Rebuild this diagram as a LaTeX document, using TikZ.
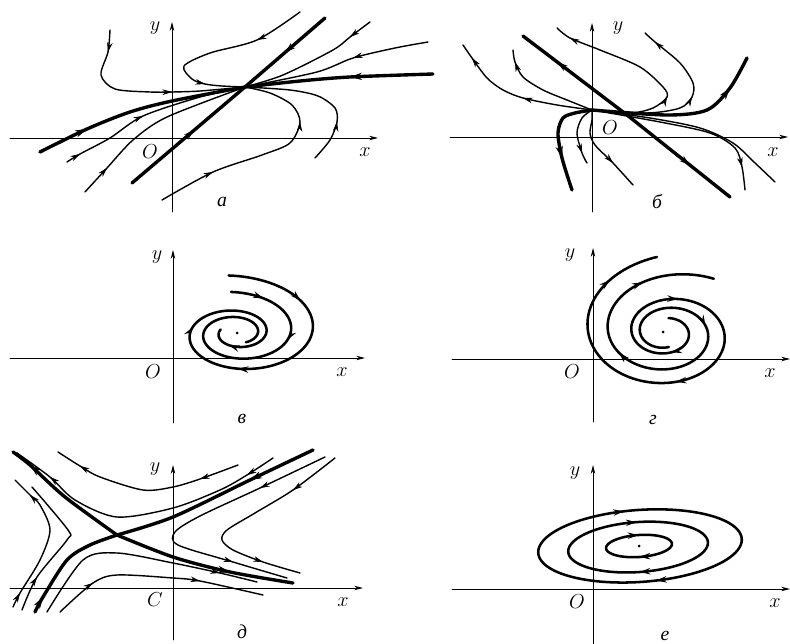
\documentclass[tikz,border=0pt]{standalone}
\usepackage{fontspec}
\newfontfamily\cyrfont{Liberation Serif}
\usetikzlibrary{arrows.meta,decorations.markings,calc}
\tikzset{
  flow/.style={postaction={decorate,decoration={markings,
      mark=at position #1 with {\arrow{Stealth[length=2.6mm,width=1.6mm]}}}}},
  axisline/.style={line width=0.6pt,-{Stealth[length=2.2mm,width=1.1mm]}},
  traj/.style={line width=1pt},
  sep/.style={line width=2.4pt},
  spir/.style={line width=1.8pt},
  tipline/.style={line width=0.4pt,-{Stealth[length=2.4mm,width=1.4mm]}},
  bigtip/.style={line width=0.4pt,-{Stealth[length=3mm,width=1.8mm]}},
  lab/.style={font=\fontsize{14}{16}\selectfont},
  panelname/.style={font=\fontsize{14}{16}\selectfont\cyrfont\itshape},
}
% arrow head at #3, pointing from #2 towards #4
\newcommand{\flowtip}[4][tipline]{\draw[#1] ($(#3)+0.01*(#2)-0.01*(#4)$) -- (#3);}
\begin{document}
\begin{tikzpicture}[x=0.025cm, y=-0.025cm, line join=round, line cap=round]
\useasboundingbox (0,0) rectangle (790,644);
% axes of the six panels
\foreach \xa/\xb/\xy/\yx/\ya/\yb in {10/378/138/172/212/22, 450/788/137/592/212/23,
    10/365/358/173/423/250, 452/790/359/593/422/248,
    10/363/588/173/640/465, 452/790/589/593/644/465}{
  \draw[axisline] (\xa,\xy) -- (\xb,\xy);
  \draw[axisline] (\yx,\ya) -- (\yx,\yb);
}
% axis labels
\foreach \n/\p/\t in {ya/{155,28}/y, oa/{150,152}/O, xa/{365,152}/x,
    yb/{618,28}/y, ob/{610,128}/O, xb/{773,152}/x,
    yc/{157,257}/y, oc/{153,372}/O, xc/{342,372}/x,
    yd/{570,255}/y, od/{572,372}/O, xd/{770,373}/x,
    ye/{155,469}/y, oe/{155,600}/C, xe/{343,602}/x,
    yf/{575,473}/y, of/{577,602}/O, xf/{775,603}/x}
  \node[lab] (\n) at (\p) {$\t$};
% panel names
\foreach \n/\p/\t in {pa/{222,202}/а, pb/{657,202}/б, pc/{242,419}/в,
    pd/{653,420}/г, pe/{242,632}/д, pf/{665,636}/е}
  \node[panelname] (\n) at (\p) {\t};

% a: stable node
\coordinate (na) at (245,87);
\draw[sep,flow=0.55] (132,183) -- (na);
\draw[sep,flow=0.5] (325,18) -- (na);
\draw[sep] plot[smooth] coordinates {(40,152) (87,129) (130,112) (172,101) (na)};
\draw[sep] plot[smooth] coordinates {(433,74) (350,77) (300,81) (na)};
\draw[traj] plot[smooth] coordinates {(67,162) (80,154) (110,138) (143,116) (200,97) (na)};
\draw[traj] plot[smooth] coordinates {(85,192) (107,168) (133,140) (167,117) (na)};
\draw[traj] plot[smooth] coordinates {(370,22) (350,37) (333,50) (283,75) (na)};
\draw[traj] plot[smooth] coordinates {(428,42) (395,48) (353,58) (317,72) (na)};
\draw[traj] plot[smooth] coordinates {(300,12) (257,40) (210,53) (184,66) (192,79) (205,84) (222,86) (na)};
\draw[traj] plot[smooth] coordinates {(110,30) (108,52) (101,75) (115,89) (150,92) (172,92) (200,91) (na)};
\draw[traj] plot[smooth] coordinates {(162,200) (213,172) (262,155) (290,143) (300,122) (292,105) (270,93) (na)};
\draw[traj] plot[smooth] coordinates {(315,158) (330,140) (337,122) (335,108) (318,96) (290,90) (na)};
\flowtip[bigtip]{40,152}{87,129}{130,112}
\flowtip[bigtip]{433,74}{350,77}{300,81}
\flowtip{67,162}{80,154}{110,138}
\flowtip{110,138}{143,116}{200,97}
\flowtip{85,192}{107,168}{133,140}
\flowtip{370,22}{350,37}{333,50}
\flowtip{395,48}{353,58}{317,72}
\flowtip{300,12}{257,40}{210,53}
\flowtip{192,79}{205,84}{222,86}
\flowtip{110,30}{108,52}{101,75}
\flowtip{150,92}{172,92}{200,91}
\flowtip{162,200}{213,172}{262,155}
\flowtip{290,143}{300,122}{292,105}
\flowtip{330,140}{337,122}{335,108}

% b: unstable node
\coordinate (nb) at (592,110);
\coordinate (lb) at (627,115);
\draw[sep,flow=0.67] (lb) -- (523,36);
\draw[sep,flow=0.61] (lb) -- (730,197);
\draw[traj] plot[smooth] coordinates {(nb) (557,105) (523,98) (503,90) (487,78) (472,58) (463,45)};
\draw[traj] plot[smooth] coordinates {(nb) (567,100) (543,90) (523,77) (515,62) (513,50)};
\draw[traj] plot[smooth] coordinates {(nb) (630,113) (653,108) (667,97) (663,87) (640,67) (600,50) (570,38) (557,28)};
\draw[traj] plot[smooth] coordinates {(nb) (647,113) (680,108) (692,97) (693,83) (680,63) (655,42) (645,33)};
\draw[sep] plot[smooth] coordinates {(nb) (667,115) (707,110) (730,88) (747,58)};
\draw[traj] plot[smooth] coordinates {(nb) (650,118) (700,128) (733,143) (755,163) (775,182)};
\draw[traj] plot[smooth] coordinates {(nb) (660,122) (710,133) (735,148) (742,167) (745,190)};
\draw[sep] plot[smooth] coordinates {(nb) (575,113) (563,118) (558,133) (562,158) (572,190)};
\draw[traj] plot[smooth] coordinates {(nb) (582,118) (577,133) (582,153) (587,163)};
\draw[traj] plot[smooth] coordinates {(nb) (592,120) (590,133) (595,145) (613,163) (633,185)};
\flowtip{557,105}{523,98}{503,90}
\flowtip{487,78}{472,58}{463,45}
\flowtip{523,77}{515,62}{513,50}
\flowtip{653,108}{667,97}{663,87}
\flowtip{600,50}{570,38}{557,28}
\flowtip{680,108}{692,97}{693,83}
\flowtip{680,63}{655,42}{645,33}
\flowtip[bigtip]{707,110}{730,88}{747,58}
\flowtip{735,148}{742,167}{745,190}
\flowtip[bigtip]{558,133}{562,158}{572,190}
\flowtip{577,133}{582,153}{587,163}
\flowtip{595,145}{613,163}{633,185}

% c: stable focus
\begin{scope}[shift={(237,333)},yscale=-1]
  \draw[spir,flow=0.18,flow=0.47,flow=0.64,flow=0.95] plot[domain=95:-560,samples=300,variable=\t]
    ({exp(-0.15*rad(90-\t))*95*cos(\t)},{exp(-0.15*rad(90-\t))*57*sin(\t)});
  \draw[spir,flow=0.12,flow=0.32] plot[domain=95:-420,samples=260,variable=\t]
    ({exp(-0.15*(rad(90-\t)+2.25))*95*cos(\t)},{exp(-0.15*(rad(90-\t)+2.25))*57*sin(\t)});
  \fill (0,0) circle (1.5);
\end{scope}

% d: unstable focus
\begin{scope}[shift={(663,332)},yscale=-1]
  \draw[spir,flow=0.105,flow=0.32,flow=0.58,flow=0.9] plot[domain=800:100,samples=300,variable=\t]
    ({exp(-0.138*rad(\t-90))*(105*cos(\t)+12)},{exp(-0.138*rad(\t-90))*78*sin(\t)});
  \draw[spir,flow=0.3,flow=0.6,flow=0.82] plot[domain=640:60,samples=260,variable=\t]
    ({exp(-0.138*(rad(\t-90)+2.25))*(105*cos(\t)+12)},{exp(-0.138*(rad(\t-90)+2.25))*78*sin(\t)});
  \fill (0,0) circle (1.5);
\end{scope}

% e: saddle
\coordinate (sd) at (117,535);
\draw[sep] plot[smooth] coordinates {(sd) (65,497) (30,465) (13,452)};
\draw[sep] plot[smooth] coordinates {(sd) (173,557) (230,572) (293,583)};
\draw[sep] plot[smooth] coordinates {(35,612) (43,597) (67,560) (90,545) (sd)};
\draw[sep] plot[smooth] coordinates {(313,450) (250,480) (173,517) (sd)};
\draw[traj] plot[smooth] coordinates {(238,465) (200,479) (173,487) (143,490) (100,477) (80,466) (58,452)};
\draw[traj] plot[smooth] coordinates {(273,458) (247,475) (220,490) (173,508) (117,517) (75,500) (50,477) (17,453)};
\draw[traj] plot[smooth] coordinates {(335,458) (293,490) (255,513) (227,530) (222,540) (233,550) (263,562) (300,573)};
\draw[traj] plot[smooth] coordinates {(325,457) (260,488) (200,516) (175,532) (178,545) (233,562) (287,578)};
\draw[traj] plot[smooth] coordinates {(13,607) (20,593) (40,560) (50,530) (40,505) (30,495) (15,480)};
\draw[traj] plot[smooth] coordinates {(22,610) (37,577) (67,540) (68,530) (32,487)};
\draw[traj] plot[smooth] coordinates {(47,612) (83,560) (117,553) (173,563) (220,573) (257,582)};
\draw[traj] plot[smooth] coordinates {(60,612) (93,583) (117,575) (173,578) (200,581) (263,595)};
\flowtip[bigtip]{65,497}{30,465}{13,452}
\flowtip[bigtip]{173,557}{230,572}{293,583}
\flowtip[bigtip]{35,612}{43,597}{67,560}
\flowtip[bigtip]{313,450}{250,480}{173,517}
\flowtip{238,465}{200,479}{173,487}
\flowtip{100,477}{80,466}{58,452}
\flowtip{273,458}{247,475}{220,490}
\flowtip{75,500}{50,477}{17,453}
\flowtip{335,458}{293,490}{255,513}
\flowtip{233,550}{263,562}{300,573}
\flowtip{325,457}{260,488}{200,516}
\flowtip{178,545}{233,562}{287,578}
\flowtip{13,607}{20,593}{40,560}
\flowtip{40,505}{30,495}{15,480}
\flowtip{22,610}{37,577}{67,540}
\flowtip{173,563}{220,573}{257,582}
\flowtip{60,612}{93,583}{117,575}
\flowtip{173,578}{200,581}{263,595}

% f: centre
\coordinate (cf) at (639,546);
\begin{scope}[rotate around={4:(cf)}]
  \draw[spir,flow=0.22,flow=0.72] plot[domain=0:360,samples=120,variable=\t] ({640+102*cos(\t)},{546+36*sin(\t)}) -- cycle;
  \draw[spir,flow=0.25,flow=0.75] plot[domain=0:360,samples=100,variable=\t] ({638+70*cos(\t)},{547+25*sin(\t)}) -- cycle;
  \draw[spir,flow=0.25,flow=0.75] plot[domain=0:360,samples=80,variable=\t] ({639+33*cos(\t)},{546+11*sin(\t)}) -- cycle;
\end{scope}
\fill (cf) circle (1.5);
\end{tikzpicture}
\end{document}
